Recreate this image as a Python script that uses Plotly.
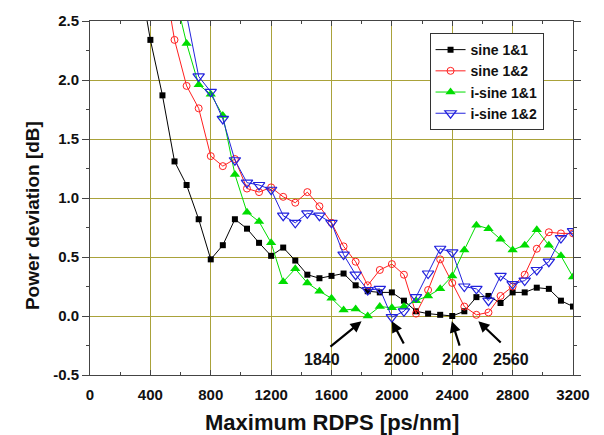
import plotly.graph_objects as go

# ---- data ----
x_sine11 = list(range(320, 3201, 80))
y_sine11 = [2.93, 2.34, 1.87, 1.31, 1.11, 0.82, 0.48, 0.60, 0.82, 0.74, 0.62, 0.51, 0.58, 0.47,
            0.35, 0.32, 0.34, 0.36, 0.26, 0.21, 0.20, 0.20, 0.13, 0.04, 0.02, 0.01, 0.00, 0.04,
            0.16, 0.17, 0.11, 0.20, 0.20, 0.24, 0.23, 0.13, 0.08]

x_sine12 = list(range(480, 3201, 80))
y_sine12 = [2.95, 2.34, 1.95, 1.76, 1.355, 1.27, 1.33, 1.08, 1.05, 1.09, 1.01, 0.96, 1.05, 0.93,
            0.79, 0.59, 0.46, 0.26, 0.39, 0.44, 0.35, 0.02, 0.22, 0.48, 0.28, 0.08, 0.01, 0.03,
            0.17, 0.25, 0.35, 0.57, 0.71, 0.70, 0.70]

x_isine11 = list(range(560, 3201, 80))
y_isine11 = [2.74, 2.31, 1.96, 1.88, 1.70, 1.20, 0.88, 0.80, 0.62, 0.29, 0.40, 0.28, 0.21, 0.15,
             0.05, 0.06, 0.00, 0.08, 0.07, 0.08, 0.13, 0.17, 0.23, 0.34, 0.56, 0.77, 0.74, 0.65,
             0.56, 0.60, 0.73, 0.60, 0.51, 0.33]

x_isine12 = list(range(560, 3201, 80))
y_isine12 = [2.97, 2.55, 2.03, 1.90, 1.67, 1.32, 1.13, 1.11, 1.07, 0.85, 0.79, 0.87, 0.85, 0.79,
             0.52, 0.35, 0.22, 0.23, -0.01, 0.04, 0.16, 0.36, 0.57, 0.54, 0.25, 0.23, 0.13, 0.34,
             0.27, 0.30, 0.39, 0.46, 0.66, 0.72]

x_ticks = [0, 400, 800, 1200, 1600, 2000, 2400, 2800, 3200]
y_ticks = [-0.5, 0.0, 0.5, 1.0, 1.5, 2.0, 2.5]

marked_x = [1840, 2000, 2400, 2560]
marked_labels = ["1840", "2000", "2400", "2560"]
label_x = [1540, 2067, 2452, 2792]
arrow_tail_x = [1583, 2084, 2452, 2731]
arrow_tail_y = [-0.27, -0.245, -0.264, -0.236]
arrow_tip_x = [1799, 2000, 2397, 2573]
arrow_tip_y = -0.045
label_y = -0.365

FONT = "Liberation Sans, Arial, sans-serif"

fig = go.Figure()
series = [
    ("sine 1&1", x_sine11, y_sine11, "#000000", dict(symbol="square", size=6, color="#000000")),
    ("sine 1&2", x_sine12, y_sine12, "#ff2020",
     dict(symbol="circle-open", size=7, color="#ff2020", line=dict(width=1, color="#ff2020"))),
    ("i-sine 1&1", x_isine11, y_isine11, "#00dd00", dict(symbol="triangle-up", size=9, color="#00dd00")),
    ("i-sine 1&2", x_isine12, y_isine12, "#2222dd",
     dict(symbol="triangle-down-open", size=10, color="#2222dd", line=dict(width=1.2, color="#2222dd"))),
]
for name, xs, ys, col, mk in series:
    fig.add_trace(go.Scatter(x=xs, y=ys, mode="lines+markers", name=name,
                             line=dict(color=col, width=1), marker=mk))

annotations = []
for i in range(len(marked_x)):
    annotations.append(dict(x=arrow_tip_x[i], y=arrow_tip_y, xref="x", yref="y",
                            ax=arrow_tail_x[i], ay=arrow_tail_y[i], axref="x", ayref="y",
                            text="", showarrow=True, arrowhead=2, arrowsize=1,
                            arrowwidth=2.2, arrowcolor="#000000"))
    annotations.append(dict(x=label_x[i], y=label_y, xref="x", yref="y",
                            text=marked_labels[i], showarrow=False,
                            font=dict(family=FONT, size=16, color="#111111", weight="bold")))

# axis titles placed as annotations (position matched to reference)
annotations.append(dict(x=-0.12, y=0.449, xref="paper", yref="paper", xanchor="center", yanchor="middle",
                        text="Power deviation [dB]", textangle=-90, showarrow=False,
                        font=dict(family=FONT, size=19, color="#111111", weight="bold")))
annotations.append(dict(x=0.502, y=-0.134, xref="paper", yref="paper", xanchor="center", yanchor="middle",
                        text="Maximum RDPS [ps/nm]", showarrow=False,
                        font=dict(family=FONT, size=22, color="#111111", weight="bold")))

fig.update_layout(
    width=604, height=435,
    margin=dict(l=90, r=31, t=19, b=60),
    paper_bgcolor="white", plot_bgcolor="white",
    font=dict(family=FONT, color="#111111"),
    annotations=annotations,
    legend=dict(x=0.703, y=0.966, xanchor="left", yanchor="top",
                bgcolor="white", bordercolor="#333333", borderwidth=1,
                font=dict(family=FONT, size=14, color="#111111", weight="bold"),
                tracegroupgap=0),
)
fig.update_xaxes(
    range=[0, 3200], tickvals=x_ticks, ticktext=[str(v) for v in x_ticks],
    showgrid=True, gridcolor="#aaa23a", gridwidth=1.3,
    showline=True, linecolor="#444444", linewidth=1, mirror="ticks",
    ticks="inside", ticklen=5, tickcolor="#444444", ticklabelstandoff=6,
    minor=dict(dtick=200, tick0=0, ticks="inside", ticklen=3, tickcolor="#444444", showgrid=False),
    tickfont=dict(family=FONT, size=15, color="#111111", weight="bold"),
    zeroline=False,
)
fig.update_yaxes(
    range=[-0.5, 2.5], tickvals=y_ticks, ticktext=["%.1f" % v for v in y_ticks],
    showgrid=True, gridcolor="#aaa23a", gridwidth=1.3,
    showline=True, linecolor="#444444", linewidth=1, mirror="ticks",
    ticks="outside", ticklen=7, tickcolor="#444444",
    minor=dict(dtick=0.25, tick0=0, ticks="outside", ticklen=3, tickcolor="#444444", showgrid=False),
    tickfont=dict(family=FONT, size=15, color="#111111", weight="bold"),
    zeroline=False,
)

fig.write_html("out.html")
